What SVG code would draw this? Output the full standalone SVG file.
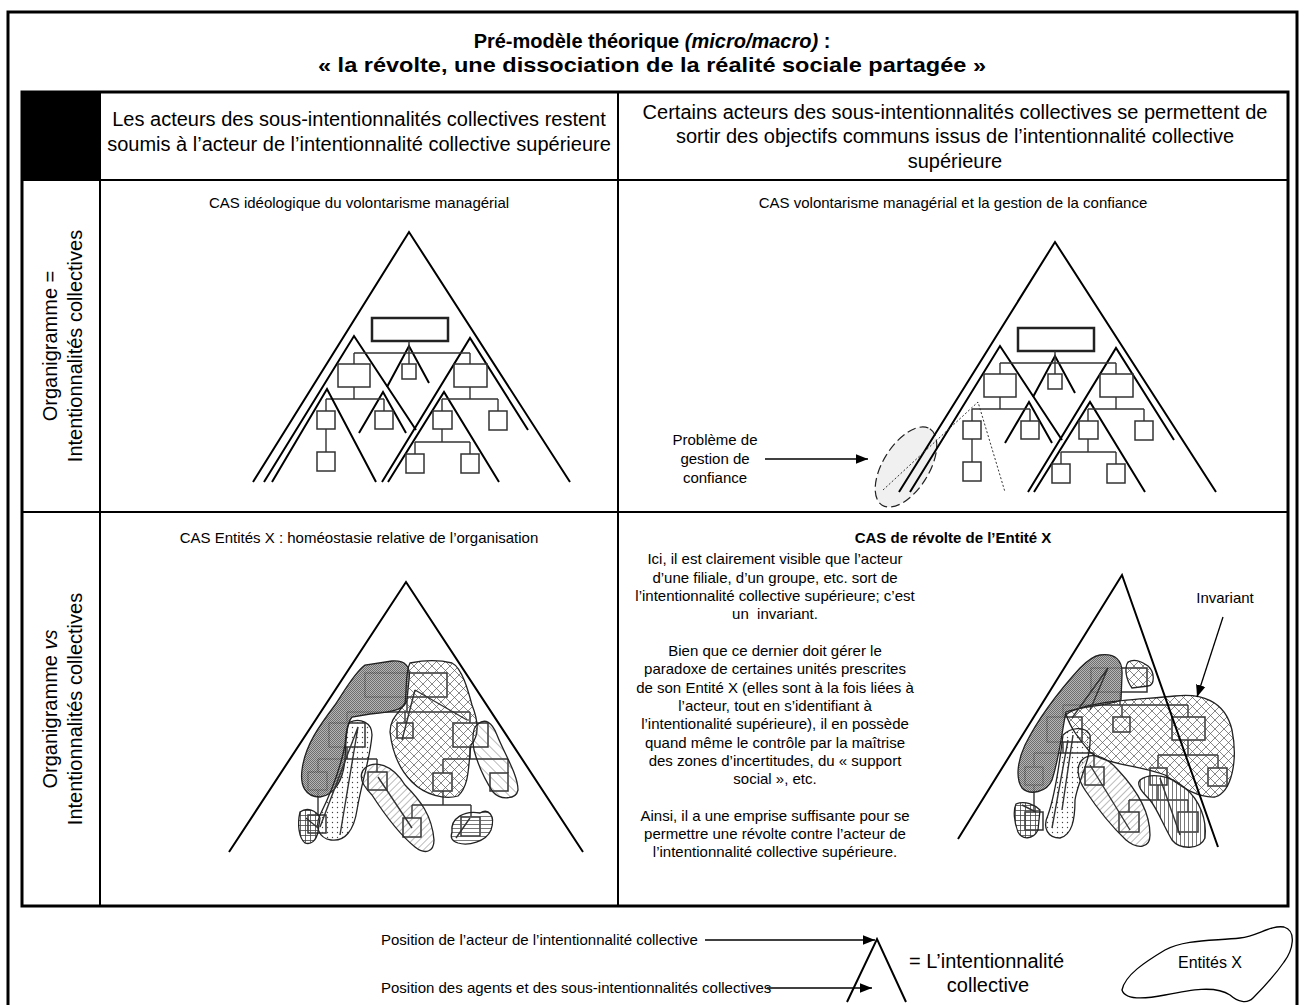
<svg xmlns="http://www.w3.org/2000/svg" xmlns:xlink="http://www.w3.org/1999/xlink" width="1304" height="1005" viewBox="0 0 1304 1005">
<style>
text{font-family:"Liberation Sans",Arial,sans-serif;fill:#000}
.title{font-size:20px;font-weight:bold}
.hdr{font-size:20px}
.cas{font-size:15px}
.body{font-size:15px}
.leg{font-size:15px}
.tri{fill:none;stroke:#000;stroke-width:2}
.box{fill:none;stroke:#333;stroke-width:1.5}
.ln{fill:none;stroke:#333;stroke-width:1.4}
.blob{stroke:#222;stroke-width:1.3}
.arrow{stroke:#000;stroke-width:1.3}
</style>
<defs>
<marker id="ahL" viewBox="0 0 10 10" refX="10" refY="5" markerWidth="12" markerHeight="12" markerUnits="userSpaceOnUse" orient="auto"><path d="M0,1L10,5L0,9Z" fill="#000"/></marker>
<pattern id="pDark" width="2" height="2" patternUnits="userSpaceOnUse"><rect width="2" height="2" fill="#a8a8a8"/><rect width="1" height="1" fill="#555"/><rect x="1" y="1" width="1" height="1" fill="#555"/></pattern>
<pattern id="pCross" width="9" height="9" patternUnits="userSpaceOnUse"><path d="M0,0L9,9M9,0L0,9" stroke="#555" stroke-width="0.7"/></pattern>
<pattern id="pDots" width="5" height="5" patternUnits="userSpaceOnUse"><circle cx="2.5" cy="2.5" r="0.7" fill="#444"/></pattern>
<pattern id="pFwd" width="5" height="5" patternUnits="userSpaceOnUse" patternTransform="rotate(45)"><line x1="0" y1="0" x2="0" y2="5" stroke="#555" stroke-width="0.8"/></pattern>
<pattern id="pBack" width="7" height="7" patternUnits="userSpaceOnUse" patternTransform="rotate(-45)"><line x1="0" y1="0" x2="0" y2="7" stroke="#555" stroke-width="0.8"/></pattern>
<pattern id="pHz" width="4" height="4" patternUnits="userSpaceOnUse"><line x1="0" y1="0.5" x2="4" y2="0.5" stroke="#555" stroke-width="0.8"/></pattern>
<pattern id="pVt" width="4" height="4" patternUnits="userSpaceOnUse"><line x1="0.5" y1="0" x2="0.5" y2="4" stroke="#555" stroke-width="0.8"/></pattern>
<pattern id="pGrid" width="5" height="5" patternUnits="userSpaceOnUse"><path d="M0,0.5H5M0.5,0V5" stroke="#444" stroke-width="0.8"/></pattern>
<g id="orgCommon">
<path class="tri" d="M253,482 L409,232 L570,482"/>
<path class="tri" d="M264,482 L354,336 L416,430"/>
<path class="tri" d="M359,433 L383,392 L406,433"/>
<path class="tri" d="M387,387 L409,346 L429,383"/>
<path class="tri" d="M382,482 L470,338 L528,430"/>
<path class="tri" d="M388,482 L444,392 L499,482"/>
<rect x="372" y="318" width="76" height="23" fill="none" stroke="#222" stroke-width="2.5"/>
<path class="ln" d="M409,341V353M354,353H470M354,353V364M409,353V364M470,353V364"/>
<rect class="box" x="338" y="364" width="32" height="23"/>
<rect class="box" x="402" y="364" width="14" height="15"/>
<rect class="box" x="454" y="364" width="33" height="23"/>
<path class="ln" d="M354,387V399M326,399H384M326,399V411M384,399V411"/>
<rect class="box" x="317" y="411" width="18" height="18"/>
<rect class="box" x="375" y="411" width="18" height="18"/>
<path class="ln" d="M326,429V452"/>
<rect class="box" x="317" y="452" width="18" height="19"/>
<path class="ln" d="M470,387V399M442,399H498M442,399V411M498,399V411"/>
<rect class="box" x="433" y="411" width="19" height="18"/>
<rect class="box" x="489" y="411" width="18" height="19"/>
<path class="ln" d="M442,429V442M415,442H470M415,442V454M470,442V454"/>
<rect class="box" x="406" y="454" width="18" height="19"/>
<rect class="box" x="461" y="454" width="18" height="19"/>
</g>
</defs>
<rect width="1304" height="1005" fill="#fff"/>

<g id="frame">
<rect x="8" y="12" width="1289" height="1000" fill="none" stroke="#000" stroke-width="3"/>
<rect x="22" y="92" width="1266" height="814" fill="none" stroke="#000" stroke-width="3"/>
<rect x="22" y="92" width="78" height="88" fill="#000"/>
<path d="M100,92V906M618,92V906M22,180H1288M22,512H1288" stroke="#000" stroke-width="2" fill="none"/>
</g>

<g id="title">
<text class="title" x="652" y="48" text-anchor="middle">Pré-modèle théorique <tspan font-style="italic">(micro/macro)</tspan> :</text>
<text class="title" x="652" y="72" text-anchor="middle" textLength="668" lengthAdjust="spacingAndGlyphs">« la révolte, une dissociation de la réalité sociale partagée »</text>
</g>

<g id="header-left">
<text class="hdr" x="359" y="126" text-anchor="middle">Les acteurs des sous-intentionnalités collectives restent</text>
<text class="hdr" x="359" y="151" text-anchor="middle">soumis à l’acteur de l’intentionnalité collective supérieure</text>
</g>
<g id="header-right">
<text class="hdr" x="955" y="119" text-anchor="middle">Certains acteurs des sous-intentionnalités collectives se permettent de</text>
<text class="hdr" x="955" y="143" text-anchor="middle">sortir des objectifs communs issus de l’intentionnalité collective</text>
<text class="hdr" x="955" y="168" text-anchor="middle">supérieure</text>
</g>

<g id="row-label-1">
<text class="hdr" transform="translate(57,346) rotate(-90)" text-anchor="middle">Organigramme =</text>
<text class="hdr" transform="translate(82,346) rotate(-90)" text-anchor="middle">Intentionnalités collectives</text>
</g>
<g id="row-label-2">
<text class="hdr" transform="translate(57,709) rotate(-90)" text-anchor="middle">Organigramme <tspan font-style="italic">vs</tspan></text>
<text class="hdr" transform="translate(82,709) rotate(-90)" text-anchor="middle">Intentionnalités collectives</text>
</g>

<g id="cell-top-left">
<text class="cas" x="359" y="208" text-anchor="middle">CAS idéologique du volontarisme managérial</text>
<use xlink:href="#orgCommon"/>
<path class="tri" d="M272,482 L327,389 L376,482"/>
</g>

<g id="cell-top-right">
<text class="cas" x="953" y="208" text-anchor="middle">CAS volontarisme managérial et la gestion de la confiance</text>
<ellipse cx="906" cy="467" rx="45" ry="23" transform="rotate(-58 906 467)" fill="#f0f0f0" stroke="#222" stroke-width="1.2" stroke-dasharray="9,4"/>
<use xlink:href="#orgCommon" transform="translate(646,10)"/>
<path d="M883,490 L978,402 L1005,492" fill="none" stroke="#333" stroke-width="1" stroke-dasharray="2,2"/>
<text class="body" x="715" y="445" text-anchor="middle">Problème de</text>
<text class="body" x="715" y="464" text-anchor="middle">gestion de</text>
<text class="body" x="715" y="483" text-anchor="middle">confiance</text>
</g>

<g id="cell-bottom-left">
<text class="cas" x="359" y="543" text-anchor="middle">CAS Entités X : homéostasie relative de l’organisation</text>
<path class="tri" d="M229,852 L406,582 L583,852"/>
<g id="chart-bl">
<rect class="box" x="365" y="673" width="82" height="24"/>
<path class="ln" d="M407,697V712M347,712H470M347,712V723M405,712V723M470,712V723"/>
<rect class="box" x="329" y="723" width="36" height="24"/>
<rect class="box" x="397" y="723" width="16" height="15"/>
<rect class="box" x="453" y="723" width="35" height="24"/>
<path class="ln" d="M347,747V759M318,759H377M318,759V772M377,759V772"/>
<rect class="box" x="308" y="772" width="19" height="18"/>
<rect class="box" x="368" y="772" width="19" height="18"/>
<path class="ln" d="M318,790V815"/>
<rect class="box" x="308" y="815" width="18" height="18"/>
<path class="ln" d="M470,747V759M443,759H508M443,759V773M508,759V773"/>
<rect class="box" x="433" y="773" width="19" height="18"/>
<rect class="box" x="490" y="773" width="18" height="18"/>
<path class="ln" d="M443,791V805M412,805H471M412,805V818M471,805V817"/>
<rect class="box" x="403" y="818" width="18" height="19"/>
<rect class="box" x="461" y="817" width="19" height="19"/>
</g>
<g id="entites-bl">
<path class="blob" fill="url(#pDark)" fill-opacity="0.85" d="M392,661 C405,660 411,666 409,680 L407,700 C405,709 395,712 370,714 L352,717 C346,724 346,742 345,760 C343,780 335,795 320,797 C305,797 300,785 302,770 C305,745 320,725 335,705 C345,690 355,672 365,665 Z"/>
<path class="blob" fill="url(#pCross)" d="M410,663 C425,660 440,660 452,663 C462,668 468,690 472,705 C478,720 480,735 471,745 C468,765 470,785 458,796 C445,800 425,795 412,782 C398,768 392,750 390,732 C390,718 400,712 405,703 C407,690 405,672 410,663 Z"/>
<path class="blob" fill="url(#pDots)" d="M350,722 C360,718 372,722 372,735 C370,760 362,780 357,810 C354,830 345,842 331,840 C318,838 315,826 320,815 C330,795 340,770 345,745 C346,735 346,726 350,722 Z"/>
<path class="blob" fill="url(#pGrid)" d="M300,812 C307,807 316,810 320,818 L318,832 C316,841 311,845 305,843 C299,838 297,825 300,812 Z"/>
<path class="blob" fill="url(#pFwd)" d="M365,768 C375,760 392,764 405,785 C420,800 432,815 434,840 C434,852 425,855 415,847 C400,835 385,815 372,795 C362,785 358,775 365,768 Z"/>
<path class="blob" fill="url(#pBack)" d="M478,724 C485,718 492,722 497,735 C505,755 518,775 518,790 C516,800 500,800 493,792 C485,780 478,765 474,750 C472,738 472,728 478,724 Z"/>
<path class="blob" fill="url(#pHz)" d="M452,832 C450,818 465,810 480,813 C488,808 496,815 491,830 C486,842 468,846 458,843 C452,841 450,838 452,832 Z"/>
<path class="ln" d="M415,690 L402,740 M415,690 L467,720 M358,727 L320,827 M358,727 L340,835 M378,777 L412,828 M306,818 L318,828 M456,838 L470,818"/>
</g>
</g>

<g id="cell-bottom-right">
<text x="953" y="543" text-anchor="middle" font-size="15" font-weight="bold">CAS de révolte de l’Entité X</text>
<g id="body-text">
<text class="body" x="775" y="564" text-anchor="middle">Ici, il est clairement visible que l’acteur</text>
<text class="body" x="775" y="583" text-anchor="middle">d’une filiale, d’un groupe, etc. sort de</text>
<text class="body" x="775" y="601" text-anchor="middle">l’intentionnalité collective supérieure; c’est</text>
<text class="body" x="775" y="619" text-anchor="middle" xml:space="preserve">un  invariant.</text>
<text class="body" x="775" y="656" text-anchor="middle">Bien que ce dernier doit gérer le</text>
<text class="body" x="775" y="674" text-anchor="middle">paradoxe de certaines unités prescrites</text>
<text class="body" x="775" y="693" text-anchor="middle">de son Entité X (elles sont à la fois liées à</text>
<text class="body" x="775" y="711" text-anchor="middle">l’acteur, tout en s’identifiant à</text>
<text class="body" x="775" y="729" text-anchor="middle">l’intentionalité supérieure), il en possède</text>
<text class="body" x="775" y="748" text-anchor="middle">quand même le contrôle par la maîtrise</text>
<text class="body" x="775" y="766" text-anchor="middle">des zones d’incertitudes, du « support</text>
<text class="body" x="775" y="784" text-anchor="middle">social », etc.</text>
<text class="body" x="775" y="821" text-anchor="middle">Ainsi, il a une emprise suffisante pour se</text>
<text class="body" x="775" y="839" text-anchor="middle">permettre une révolte contre l’acteur de</text>
<text class="body" x="775" y="857" text-anchor="middle">l’intentionnalité collective supérieure.</text>
</g>
<g id="chart-br">
<rect class="box" x="1091" y="668" width="56" height="24"/>
<path class="ln" d="M1120,692V705M1063,705H1188M1063,705V717M1122,705V717M1188,705V717"/>
<rect class="box" x="1047" y="717" width="35" height="25"/>
<rect class="box" x="1113" y="717" width="17" height="15"/>
<rect class="box" x="1172" y="717" width="33" height="23"/>
<path class="ln" d="M1063,742V753M1034,753H1094M1034,753V767M1094,753V767"/>
<rect class="box" x="1025" y="767" width="18" height="18"/>
<rect class="box" x="1085" y="767" width="19" height="18"/>
<path class="ln" d="M1034,785V812"/>
<rect class="box" x="1025" y="812" width="18" height="18"/>
<path class="ln" d="M1188,740V755M1158,755H1218M1158,755V768M1218,755V768"/>
<rect class="box" x="1150" y="768" width="17" height="17"/>
<rect class="box" x="1208" y="768" width="19" height="18"/>
<path class="ln" d="M1158,785V800M1129,800H1188M1129,800V812M1188,800V812"/>
<rect class="box" x="1119" y="812" width="20" height="20"/>
<rect class="box" x="1178" y="812" width="20" height="20"/>
</g>
<g id="entites-br">
<path class="blob" fill="url(#pDark)" fill-opacity="0.85" d="M1100,655 C1115,653 1123,660 1122,675 L1121,700 C1110,706 1080,706 1066,712 C1062,730 1060,755 1052,780 C1047,792 1030,796 1022,788 C1015,778 1018,760 1025,745 C1040,715 1060,690 1080,668 C1088,660 1094,656 1100,655 Z"/>
<path class="blob" fill="url(#pCross)" d="M1128,662 C1135,658 1142,662 1148,666 C1155,672 1155,685 1148,686 L1132,688 C1126,680 1124,668 1128,662 Z"/>
<path class="blob" fill="url(#pCross)" d="M1066,714 C1090,700 1140,700 1175,696 C1200,693 1225,700 1232,730 C1238,760 1232,792 1215,797 C1195,798 1180,785 1165,775 C1140,765 1105,765 1090,752 C1080,740 1070,728 1066,714 Z"/>
<path class="blob" fill="url(#pDots)" d="M1063,735 C1070,728 1085,725 1090,735 C1092,760 1078,780 1075,800 C1075,820 1072,835 1060,838 C1048,838 1042,828 1048,815 C1055,795 1060,760 1063,735 Z"/>
<path class="blob" fill="url(#pGrid)" d="M1016,804 C1025,800 1035,805 1040,810 L1038,830 C1033,840 1022,840 1018,832 C1014,822 1013,810 1016,804 Z"/>
<path class="blob" fill="url(#pFwd)" d="M1082,760 C1090,752 1105,755 1118,770 C1135,788 1150,810 1150,835 C1150,848 1138,850 1126,840 C1110,825 1095,805 1085,790 C1077,778 1076,766 1082,760 Z"/>
<path class="blob" fill="url(#pVt)" d="M1140,780 C1150,772 1170,775 1185,788 C1200,800 1207,820 1205,838 C1200,850 1180,850 1172,840 C1163,825 1158,810 1150,800 C1142,792 1136,785 1140,780 Z"/>
<path class="ln" d="M1108,668 L1072,718 M1108,668 L1090,710 M1073,735 L1062,810 M1068,740 L1052,828 M1090,765 L1130,830 M1160,778 L1180,835 M1022,805 L1036,812"/>
</g>
<path class="tri" d="M958,839 L1122,575 L1218,847"/>
<text class="body" x="1225" y="603" text-anchor="middle">Invariant</text>
</g>

<g id="connectors">
<line class="arrow" x1="765" y1="459" x2="868" y2="459" marker-end="url(#ahL)"/>
<line class="arrow" x1="1223" y1="617" x2="1197" y2="697" marker-end="url(#ahL)"/>
<line class="arrow" x1="705" y1="940" x2="875" y2="940" marker-end="url(#ahL)"/>
<line class="arrow" x1="767" y1="988" x2="872" y2="988" marker-end="url(#ahL)"/>
</g>

<g id="legend">
<text class="leg" x="381" y="945">Position de l’acteur de l’intentionnalité collective</text>
<text class="leg" x="381" y="993">Position des agents et des sous-intentionnalités collectives</text>
<path class="tri" d="M847,1002 L877,939 L906,1002"/>
<text x="909" y="968" font-size="20">= L’intentionnalité</text>
<text x="988" y="992" font-size="20" text-anchor="middle">collective</text>
<path d="M1122,990 C1125,975 1145,962 1165,950 C1185,939 1215,941 1240,938 C1258,936 1270,925 1284,927 C1297,931 1293,950 1284,962 C1273,978 1263,988 1253,998 C1247,1004 1238,1002 1230,995 C1215,985 1190,990 1165,995 C1145,999 1125,1000 1122,990 Z" fill="none" stroke="#000" stroke-width="1.3"/>
<text x="1210" y="968" font-size="16" text-anchor="middle">Entités X</text>
</g>
</svg>
